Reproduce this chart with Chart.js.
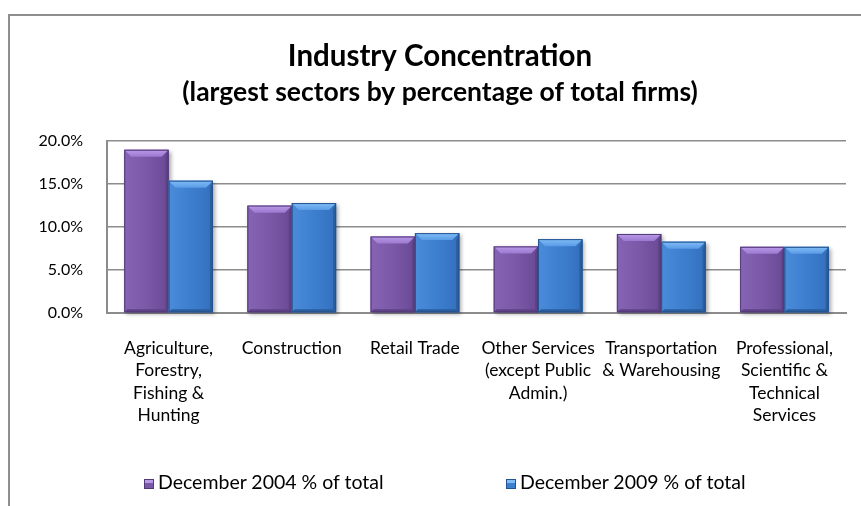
<!DOCTYPE html>
<html>
<head>
<meta charset="utf-8">
<script src="https://cdn.jsdelivr.net/npm/chart.js@4.4.1/dist/chart.umd.min.js"></script>
<style>
  html, body { margin: 0; padding: 0; background: #fff; overflow: hidden; }
  #frame {
    position: absolute; left: 8px; top: 14px; width: 900px; height: 600px;
    border-left: 2px solid #8e8e8e; border-top: 2px solid #8e8e8e;
  }
  #wrap { position: absolute; left: 0; top: 0; width: 861px; height: 506px; }
  #legend {
    position: absolute; top: 469px; left: 0; width: 861px; height: 26px;
    font-family: Lato, sans-serif; font-size: 19.5px; color: #000;
  }
  .item { position: absolute; top: 0; line-height: 26px; white-space: nowrap; }
  .swatch {
    display: inline-block; width: 10px; height: 10px; margin-right: 4px;
    vertical-align: 0px; box-sizing: border-box;
  }
</style>
</head>
<body>
<div id="frame"></div>
<div id="wrap"><canvas id="chart" width="861" height="506"></canvas></div>
<div id="legend"></div>
<script>
var sectors = [
    ['Agriculture,', 'Forestry,', 'Fishing &', 'Hunting'],
    ['Construction'],
    ['Retail Trade'],
    ['Other Services', '(except Public', 'Admin.)'],
    ['Transportation', '& Warehousing'],
    ['Professional,', 'Scientific &', 'Technical', 'Services']
];
var dec2004 = [19.0, 12.5, 8.9, 7.75, 9.2, 7.7];
var dec2009 = [15.4, 12.8, 9.3, 8.6, 8.3, 7.7];
var seriesNames = ['December 2004 % of total', 'December 2009 % of total'];
var yTicks = [0, 5, 10, 15, 20];

// bevel colours per series: outline, body left/mid/right, top light/dark, right edge
var shades = [
    { line: '#553a7a', l: '#8664b4', m: '#7b59a8', r: '#694995', t1: '#b99ae8', t2: '#9c79cf', side: '#5d4285' },
    { line: '#24538f', l: '#4a8cd9', m: '#3d7fcf', r: '#3370bd', t1: '#80bdf6', t2: '#5a9be6', side: '#2b5e9d' }
];

// paints the bars as bevelled blocks, on top of the plain library bars
var bevelBars = {
    id: 'bevelBars',
    afterDatasetsDraw: function(chart) {
        var ctx = chart.ctx;
        chart.data.datasets.forEach(function(ds, i) {
            var c = shades[i];
            chart.getDatasetMeta(i).data.forEach(function(bar) {
                var p = bar.getProps(['x', 'y', 'base', 'width'], true);
                var L = p.x - p.width / 2, R = p.x + p.width / 2, T = p.y, B = p.base;
                var b = 7, s = 3;
                ctx.save();
                ctx.shadowColor = 'rgba(0,0,0,0.35)';
                ctx.shadowBlur = 4;
                ctx.shadowOffsetX = 2;
                ctx.shadowOffsetY = 2;
                var g = ctx.createLinearGradient(L, 0, R, 0);
                g.addColorStop(0, c.l);
                g.addColorStop(0.5, c.m);
                g.addColorStop(1, c.r);
                ctx.fillStyle = g;
                ctx.fillRect(L, T, R - L, B - T);
                ctx.restore();

                ctx.save();
                // top bevel
                var tg = ctx.createLinearGradient(0, T, 0, T + b);
                tg.addColorStop(0, c.t1);
                tg.addColorStop(1, c.t2);
                ctx.fillStyle = tg;
                ctx.beginPath();
                ctx.moveTo(L, T); ctx.lineTo(R, T);
                ctx.lineTo(R - b, T + b); ctx.lineTo(L + b, T + b);
                ctx.closePath(); ctx.fill();
                // right edge
                ctx.fillStyle = c.side;
                ctx.beginPath();
                ctx.moveTo(R, T); ctx.lineTo(R - s, T + b);
                ctx.lineTo(R - s, B - s); ctx.lineTo(R, B);
                ctx.closePath(); ctx.fill();
                // bottom edge
                ctx.beginPath();
                ctx.moveTo(L, B); ctx.lineTo(L + s, B - s);
                ctx.lineTo(R - s, B - s); ctx.lineTo(R, B);
                ctx.closePath(); ctx.fill();
                // outline
                ctx.strokeStyle = c.line;
                ctx.lineWidth = 1;
                ctx.strokeRect(L + 0.5, T + 0.5, R - L - 1, B - T - 1);
                ctx.restore();
            });
        });
    }
};

var ctx = document.getElementById('chart').getContext('2d');
var chart = new Chart(ctx, {
    type: 'bar',
    data: {
        labels: sectors,
        datasets: [
            { label: seriesNames[0], data: dec2004, backgroundColor: shades[0].m, borderWidth: 0 },
            { label: seriesNames[1], data: dec2009, backgroundColor: shades[1].m, borderWidth: 0 }
        ]
    },
    options: {
        animation: false,
        responsive: false,
        layout: { padding: { left: 34, right: 15, top: 0, bottom: 0 } },
        datasets: { bar: { categoryPercentage: 0.72, barPercentage: 1.0 } },
        plugins: {
            legend: { display: false },
            tooltip: { enabled: false },
            title: {
                display: true,
                text: 'Industry Concentration',
                color: '#000',
                font: { family: 'Lato', size: 29.5, weight: 'bold', lineHeight: 1.2 },
                padding: { top: 39, bottom: 0 }
            },
            subtitle: {
                display: true,
                text: '(largest sectors by percentage of total firms)',
                color: '#000',
                font: { family: 'Lato', size: 26.5, weight: 'bold', lineHeight: 1.2 },
                padding: { top: 2, bottom: 33 }
            }
        },
        scales: {
            x: {
                grid: { display: false, drawTicks: false },
                border: { display: true, color: '#8c8c8c', width: 2 },
                ticks: {
                    color: '#000',
                    padding: 24,
                    maxRotation: 0,
                    autoSkip: false,
                    font: { family: 'Lato', size: 17.5, lineHeight: 1.286 }
                },
                afterFit: function(scale) { scale.height = 193; }
            },
            y: {
                min: 0,
                max: 20,
                afterBuildTicks: function(scale) {
                    scale.ticks = yTicks.map(function(v) { return { value: v }; });
                },
                grid: { color: '#8c8c8c', lineWidth: 1.5, drawTicks: false },
                border: { display: true, color: '#8c8c8c', width: 2 },
                ticks: {
                    color: '#000',
                    padding: 24,
                    font: { family: 'Lato', size: 16 },
                    callback: function(v) { return v.toFixed(1) + '%'; }
                },
                afterFit: function(scale) { scale.width = 73; }
            }
        }
    },
    plugins: [bevelBars]
});

// legend row under the chart
var legendPos = [144, 506];
var swatchCss = [
    'background: linear-gradient(180deg, #b99ae8 0 35%, #7b59a8 35% 100%); border: 1px solid #553a7a;',
    'background: linear-gradient(180deg, #80bdf6 0 35%, #3d7fcf 35% 100%); border: 1px solid #24538f;'
];
var legend = document.getElementById('legend');
chart.data.datasets.forEach(function(ds, i) {
    var item = document.createElement('div');
    item.className = 'item';
    item.style.left = legendPos[i] + 'px';
    item.innerHTML = '<span class="swatch" style="' + swatchCss[i] + '"></span>' + ds.label;
    legend.appendChild(item);
});
</script>
</body>
</html>
